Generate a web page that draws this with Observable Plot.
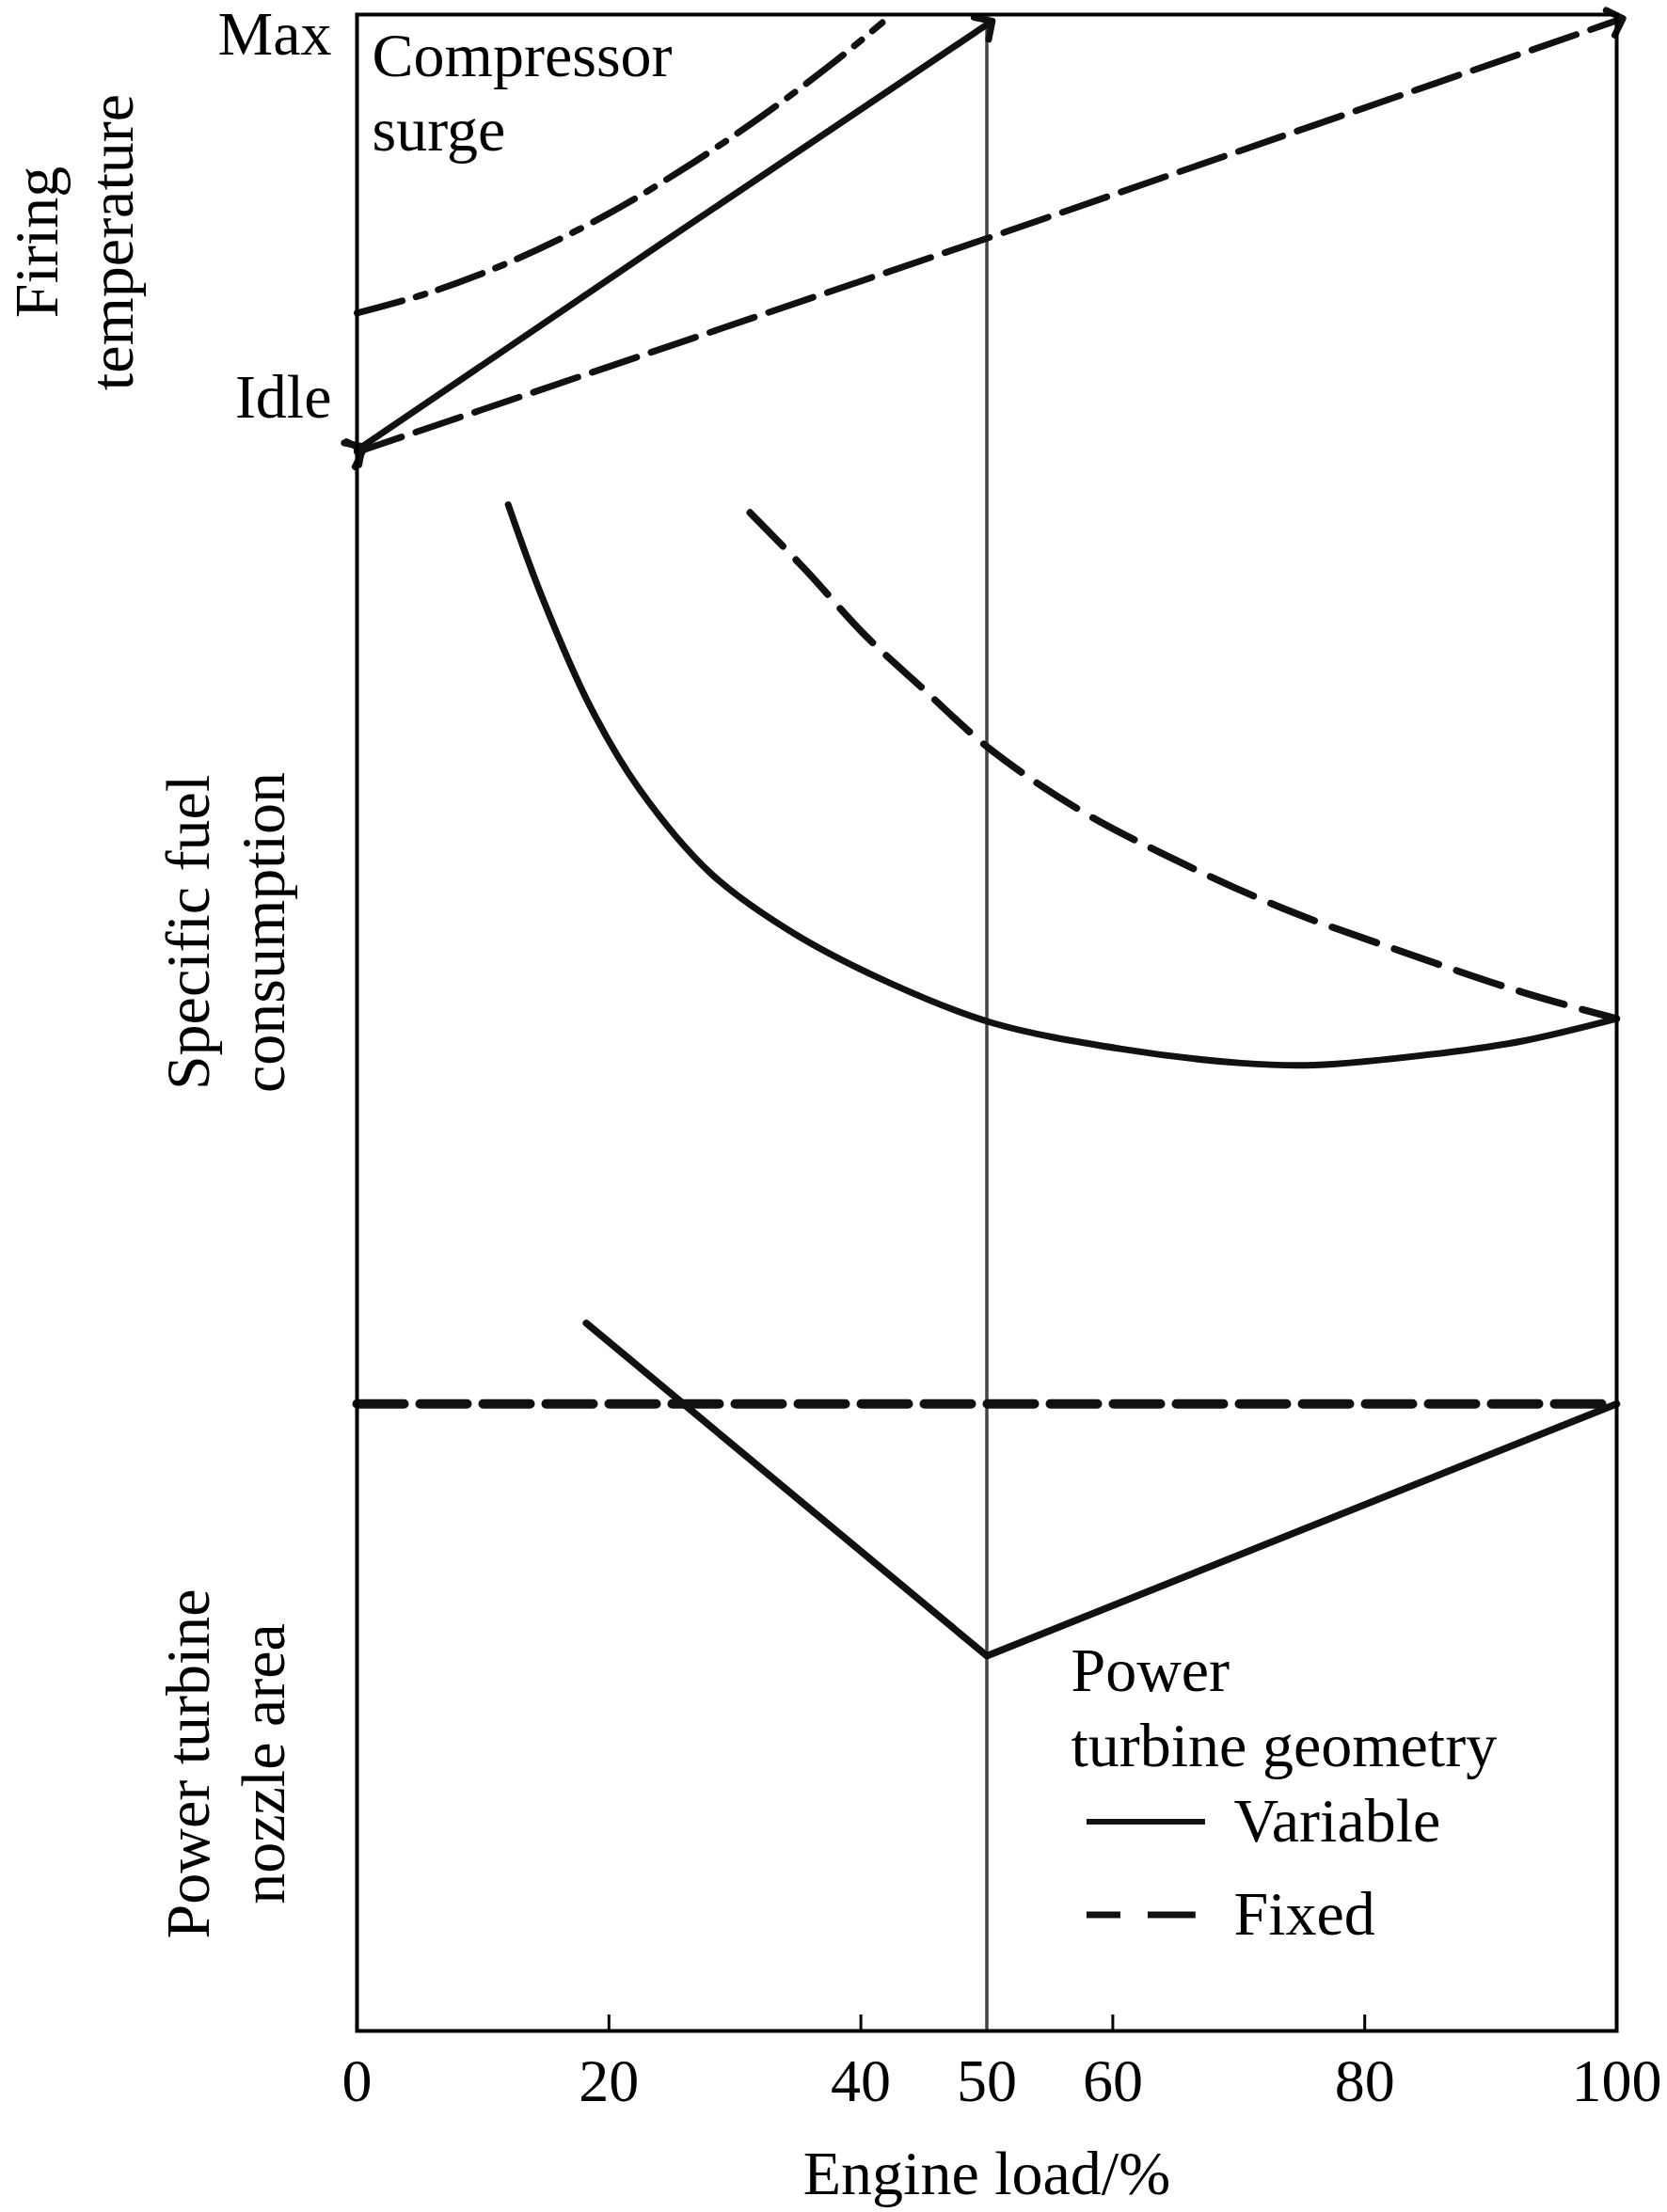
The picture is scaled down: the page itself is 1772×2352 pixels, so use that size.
<!DOCTYPE html>
<html>
<head>
<meta charset="utf-8">
<script src="https://cdn.jsdelivr.net/npm/d3@7"></script>
<script src="https://cdn.jsdelivr.net/npm/@observablehq/plot@0.6"></script>
<style>
  html, body { margin: 0; padding: 0; background: #ffffff; }
  #chart svg { display: block; }
</style>
</head>
<body>
<div id="chart"></div>
<script>
// ---------------- data (x = engine load %, y = relative height of the panel stack, 0 = bottom, 100 = top) ----------------
const loadTicks = [0, 20, 40, 50, 60, 80, 100];
const innerTicks = [20, 40, 60, 80];
const refLoad = [50];

// Firing temperature panel
const firingVarLoad = [0, 25, 50];
const firingVarVal  = [78.4, 89.0, 99.5];
const firingFixLoad = [0, 50, 100];
const firingFixVal  = [78.3, 88.9, 99.7];
const surgeLoad = [0, 5.7, 12.4, 19.6, 25.8, 32.0, 38.0, 41.7];
const surgeVal  = [85.2, 86.2, 87.8, 90.0, 92.3, 94.9, 97.7, 99.6];

// Specific fuel consumption panel
const sfcVarLoad = [12.0, 14.7, 18.5, 22.4, 28.1, 34.5, 42.2, 50.4, 60.7, 70.2, 76.0, 86.2, 92.6, 100];
const sfcVarVal  = [75.7, 71.1, 65.7, 61.6, 57.4, 54.5, 52.0, 50.0, 48.7, 48.0, 47.9, 48.5, 49.1, 50.2];
const sfcFixLoad = [31.2, 35.7, 40.2, 44.7, 50.4, 57.5, 63.9, 73.4, 83.1, 92.6, 100];
const sfcFixVal  = [75.3, 72.4, 69.3, 66.7, 63.5, 60.5, 58.4, 55.7, 53.5, 51.5, 50.2];

// Power turbine nozzle area panel
const nozzleVarLoad = [18.2, 50, 100];
const nozzleVarVal  = [35.1, 18.6, 31.1];
const nozzleFixLoad = [0, 100];
const nozzleFixVal  = [31.1, 31.1];

// Text labels
const levelLabels = ["Max", "Idle"];
const levelLabelY = [99.0, 81.02];
const panelLabels = ["Firing\ntemperature", "Specific fuel\nconsumption", "Power turbine\nnozzle area"];
const panelLabelX = [-22.74, -10.68, -10.68];
const panelLabelY = [88.71, 54.48, 13.25];
const surgeLabel = ["Compressor\nsurge"];
const surgeLabelXY = [1.2, 99.59];
const legendTitle = ["Power\nturbine geometry"];
const legendTitleXY = [56.68, 19.53];
const legendNames = ["Variable", "Fixed"];
const legendTextX = 69.6;
const legendY = [10.38, 5.76];
const legendLineX = [57.95, 67.36];
const xTitle = "Engine load/%";

// ---------------- build ----------------
const zip = (xs, ys) => xs.map((x, i) => ({x, y: ys[i]}));
const W = 1772, H = 2352, mt = 15, mb = 193, ml = 379, mr = 54;
const plotH = H - mt - mb;
const FONT = "'Liberation Serif', 'Times New Roman', Times, serif";
const INK = "#111";

const chart = Plot.plot({
  width: W,
  height: H,
  marginTop: mt,
  marginBottom: mb,
  marginLeft: ml,
  marginRight: mr,
  style: {fontFamily: FONT, fontSize: "66px", background: "#fff", color: "#000", overflow: "visible"},
  x: {domain: [0, 100]},
  y: {domain: [0, 100], axis: null},
  marks: [
    // vertical reference at 50 % load
    Plot.ruleX(refLoad, {stroke: "#444", strokeWidth: 3.5}),
    // inward ticks on bottom axis
    Plot.tickX(innerTicks, {x: d => d, stroke: "#000", strokeWidth: 3, insetTop: plotH - 17}),
    Plot.axisX({ticks: loadTicks, tickSize: 0, tickPadding: 29, fontSize: 64, label: null, tickFormat: d => String(d)}),
    Plot.text([xTitle], {x: 50, y: -7.09, text: d => d, fontSize: 66, textAnchor: "middle"}),

    // firing temperature
    Plot.line(zip(surgeLoad, surgeVal), {x: "x", y: "y", stroke: INK, strokeWidth: 7, strokeDasharray: "50,15,10,15", curve: "catmull-rom"}),
    Plot.line(zip(firingVarLoad, firingVarVal), {x: "x", y: "y", stroke: INK, strokeWidth: 7, markerStart: "arrow", markerEnd: "arrow"}),
    Plot.line(zip(firingFixLoad, firingFixVal), {x: "x", y: "y", stroke: INK, strokeWidth: 7, strokeDasharray: "50,16", markerStart: "arrow", markerEnd: "arrow"}),

    // specific fuel consumption
    Plot.line(zip(sfcVarLoad, sfcVarVal), {x: "x", y: "y", stroke: INK, strokeWidth: 7, curve: "catmull-rom"}),
    Plot.line(zip(sfcFixLoad, sfcFixVal), {x: "x", y: "y", stroke: INK, strokeWidth: 7.5, strokeDasharray: "50,20", curve: "catmull-rom"}),

    // power turbine nozzle area
    Plot.line(zip(nozzleFixLoad, nozzleFixVal), {x: "x", y: "y", stroke: INK, strokeWidth: 10, strokeDasharray: "50,17"}),
    Plot.line(zip(nozzleVarLoad, nozzleVarVal), {x: "x", y: "y", stroke: INK, strokeWidth: 7.5}),

    // frame
    Plot.frame({stroke: "#000", strokeWidth: 4}),

    // labels
    Plot.text(levelLabels, {x: 0, y: (d, i) => levelLabelY[i], text: d => d, dx: -27, textAnchor: "end", fontSize: 66}),
    Plot.text(panelLabels, {x: (d, i) => panelLabelX[i], y: (d, i) => panelLabelY[i], text: d => d, rotate: -90,
      textAnchor: "middle", lineAnchor: "middle", lineHeight: 1.212, fontSize: 66}),
    Plot.text(surgeLabel, {x: surgeLabelXY[0], y: surgeLabelXY[1], text: d => d, textAnchor: "start",
      lineAnchor: "top", lineHeight: 1.2, fontSize: 66}),

    // legend
    Plot.text(legendTitle, {x: legendTitleXY[0], y: legendTitleXY[1], text: d => d, textAnchor: "start",
      lineAnchor: "top", lineHeight: 1.212, fontSize: 66}),
    Plot.text(legendNames, {x: legendTextX, y: (d, i) => legendY[i], text: d => d, textAnchor: "start", fontSize: 66}),
    Plot.ruleY([legendY[0]], {y: d => d, x1: legendLineX[0], x2: legendLineX[1], stroke: INK, strokeWidth: 6}),
    Plot.ruleY([legendY[1]], {y: d => d, x1: legendLineX[0], x2: 66.6, stroke: INK, strokeWidth: 7, strokeDasharray: "36,29,51"})
  ]
});
document.getElementById("chart").appendChild(chart);
</script>
</body>
</html>
